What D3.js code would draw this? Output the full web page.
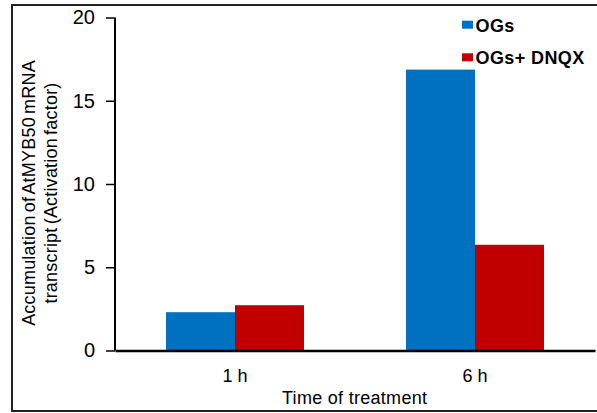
<!DOCTYPE html>
<html>
<head>
<meta charset="utf-8">
<script src="https://cdn.jsdelivr.net/npm/d3@7"></script>
<style>
  html, body { margin: 0; padding: 0; background: #fff; }
  svg { display: block; font-family: "Liberation Sans", Arial, sans-serif; }
</style>
</head>
<body>
<svg id="chart" width="597" height="413"></svg>
<script>
// Time points and treatment series
const categories = ["1 h", "6 h"];
const seriesNames = ["OGs", "OGs+ DNQX"];
const ogsValues = [2.3, 16.87];
const ogsDnqxValues = [2.72, 6.35];
const yTicks = [0, 5, 10, 15, 20];
const colors = ["#0070C0", "#C00000"];

const svg = d3.select("#chart");
const W = 597, H = 413;
const m = { left: 115, right: 2, top: 17.5, bottom: 62.5 };
const plotW = W - m.left - m.right;
const plotH = H - m.top - m.bottom;

// Outer frame
svg.append("rect")
  .attr("x", 12).attr("y", 5)
  .attr("width", 600).attr("height", 406)
  .attr("fill", "none").attr("stroke", "#222").attr("stroke-width", 2);

const g = svg.append("g").attr("transform", `translate(${m.left},${m.top})`);

const x0 = d3.scaleBand().domain(categories).range([0, plotW]).paddingInner(0.425).paddingOuter(0.2125);
const x1 = d3.scaleBand().domain(seriesNames).range([0, x0.bandwidth()]);
const y = d3.scaleLinear().domain([0, 20]).range([plotH, 0]);

const rows = categories.map((c, i) => ({ cat: c, vals: [ogsValues[i], ogsDnqxValues[i]] }));

const groups = g.selectAll("g.grp").data(rows).join("g")
  .attr("class", "grp")
  .attr("transform", d => `translate(${x0(d.cat)},0)`);

groups.selectAll("rect").data(d => d.vals.map((v, j) => ({ v, s: seriesNames[j], j }))).join("rect")
  .attr("x", d => x1(d.s))
  .attr("width", x1.bandwidth())
  .attr("y", d => y(d.v))
  .attr("height", d => y(0) - y(d.v))
  .attr("fill", d => colors[d.j]);

// Y axis
const yAxis = g.append("g")
  .call(d3.axisLeft(y).tickValues(yTicks).tickSize(9).tickPadding(11).tickFormat(d3.format("d")));
yAxis.select(".domain").attr("stroke", "#000").attr("stroke-width", 2).attr("d", `M0,0V${plotH}`);
yAxis.selectAll(".tick line").attr("stroke", "#000").attr("stroke-width", 1.5);
yAxis.selectAll(".tick text").attr("font-size", 20).attr("fill", "#000");

// X axis
const xAxis = g.append("g").attr("transform", `translate(0,${plotH})`)
  .call(d3.axisBottom(x0).tickSize(0).tickPadding(18.5));
xAxis.select(".domain").attr("stroke", "#000").attr("stroke-width", 2.5);
xAxis.selectAll(".tick text").attr("font-size", 18).attr("fill", "#000");

// Axis titles
svg.append("text")
  .attr("x", 354.5).attr("y", 404)
  .attr("text-anchor", "middle").attr("font-size", 18)
  .attr("textLength", 145).attr("lengthAdjust", "spacing")
  .text("Time of treatment");

const yTitle = svg.append("text")
  .attr("transform", "translate(0,193) rotate(-90)")
  .attr("text-anchor", "middle").attr("font-size", 18)
  .attr("word-spacing", -2).attr("letter-spacing", 0.2);
yTitle.append("tspan").attr("x", 0).attr("y", 35).text("Accumulation of AtMYB50 mRNA");
yTitle.append("tspan").attr("x", 0).attr("y", 57).text("transcript (Activation factor)");

// Legend
const legend = svg.append("g");
seriesNames.forEach((s, i) => {
  const base = 31.7 + i * 32.6;
  legend.append("rect").attr("x", 462).attr("y", base - 11).attr("width", 11).attr("height", 8).attr("fill", colors[i]);
  legend.append("text").attr("x", 475.5).attr("y", base)
    .attr("font-size", 18).attr("font-weight", "bold").attr("letter-spacing", 0.4).text(s);
});
</script>
</body>
</html>
